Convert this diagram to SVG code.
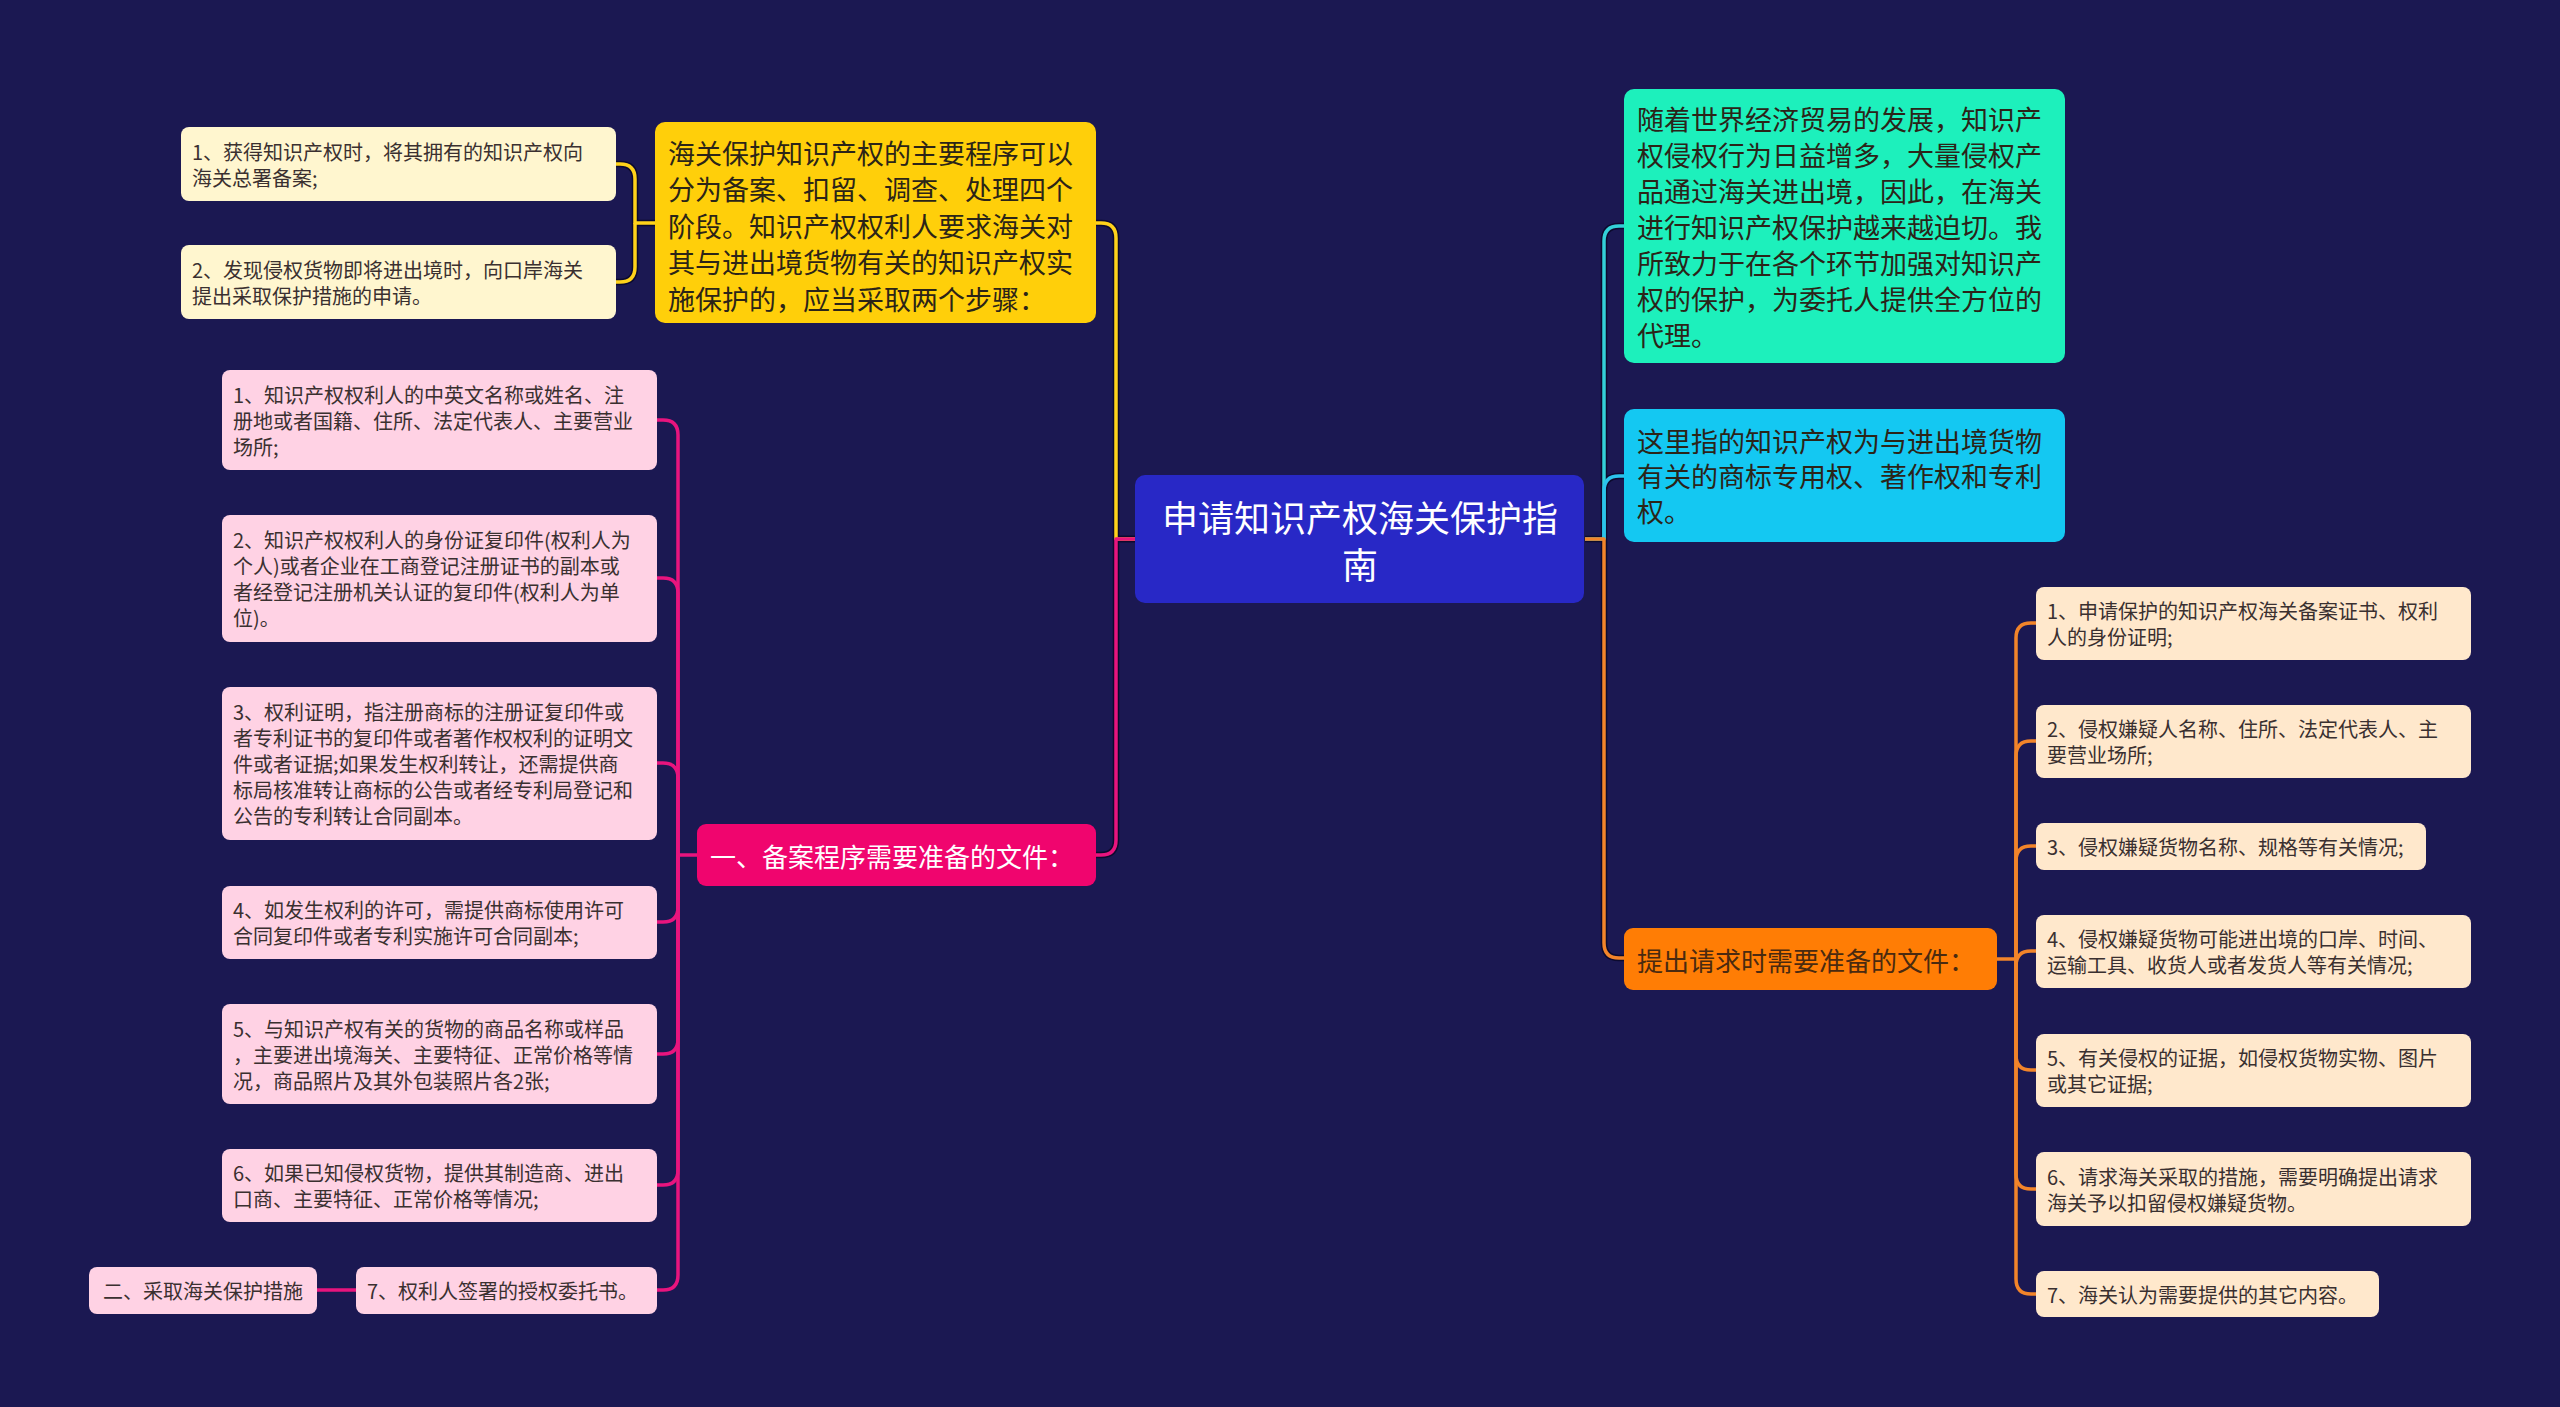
<svg xmlns="http://www.w3.org/2000/svg" width="2560" height="1407" viewBox="0 0 2560 1407">
<style>
text{font-family:"Noto Sans CJK SC","Noto Sans",sans-serif;dominant-baseline:central}
.root text{font-size:36px;fill:#ffffff;text-anchor:middle}
.big text{font-size:27px;fill:#2b2418}
.sec text{font-size:26px}
.leaf text{font-size:20px;fill:#3a3030}
.ln{fill:none;stroke-width:3.5;stroke-linejoin:round}
.sh{fill:none;stroke:#0c0a2e;stroke-width:6.5;stroke-linejoin:round}
.yl{stroke:#ffd21a}.pk{stroke:#e8147e}.tl{stroke:#33d0d8}.cy{stroke:#2bc3ec}.or{stroke:#f2842a}
</style>
<rect width="2560" height="1407" fill="#1b1852"/>
<g id="connectors">
 <g class="shadows">
  <path class="sh" d="M1135,539 H1116 V238 Q1116,223 1101,223 H1096"/>
  <path class="sh" d="M1135,539 H1116 V840 Q1116,855 1101,855 H1096"/>
  <path class="sh" d="M655,223 H635 V179 Q635,164 620,164 H616 M635,223 V267 Q635,282 620,282 H616"/>
  <path class="sh" d="M1585,539 H1604 V241 Q1604,226 1619,226 H1624 M1604,491 Q1604,476 1619,476 H1624 M1604,539 V943 Q1604,958 1619,958 H1624"/>
 </g>
 <path class="ln yl" d="M1135,539 H1116 V238 Q1116,223 1101,223 H1096"/>
 <path class="ln yl" d="M655,223 H635 V179 Q635,164 620,164 H616"/>
 <path class="ln yl" d="M635,223 V267 Q635,282 620,282 H616"/>
 <path class="ln pk" d="M1135,539 H1116 V840 Q1116,855 1101,855 H1096"/>
 <path class="ln pk" d="M697,855 H678 V435 Q678,420 663,420 H657"/>
 <path class="ln pk" d="M678,855 V593 Q678,578 663,578 H657"/>
 <path class="ln pk" d="M678,855 V778 Q678,763 663,763 H657"/>
 <path class="ln pk" d="M678,855 V907 Q678,922 663,922 H657"/>
 <path class="ln pk" d="M678,855 V1039 Q678,1054 663,1054 H657"/>
 <path class="ln pk" d="M678,855 V1170 Q678,1185 663,1185 H657"/>
 <path class="ln pk" d="M678,855 V1275 Q678,1290 663,1290 H657"/>
 <path class="ln pk" d="M356,1290 H317"/>
 <path class="ln tl" d="M1585,539 H1604 V241 Q1604,226 1619,226 H1624"/>
 <path class="ln cy" d="M1604,539 V491 Q1604,476 1619,476 H1624"/>
 <path class="ln or" d="M1585,539 H1604 V943 Q1604,958 1619,958 H1624"/>
 <path class="ln or" d="M1997,959 H2016 V638 Q2016,623 2031,623 H2036"/>
 <path class="ln or" d="M2016,959 V756 Q2016,741 2031,741 H2036"/>
 <path class="ln or" d="M2016,959 V861 Q2016,846 2031,846 H2036"/>
 <path class="ln or" d="M2016,959 V966 Q2016,951 2031,951 H2036"/>
 <path class="ln or" d="M2016,959 V1055 Q2016,1070 2031,1070 H2036"/>
 <path class="ln or" d="M2016,959 V1174 Q2016,1189 2031,1189 H2036"/>
 <path class="ln or" d="M2016,959 V1279 Q2016,1294 2031,1294 H2036"/>
</g>

<g id="root" class="root">
 <rect x="1135" y="475" width="449" height="128" rx="10" fill="#2828c6"/>
 <text x="1360" y="516">申请知识产权海关保护指</text>
 <text x="1360" y="563">南</text>
</g>

<g id="yellow-main" class="big">
 <rect x="655" y="122" width="441" height="201" rx="10" fill="#ffcf0a"/>
 <text x="668" y="152">海关保护知识产权的主要程序可以</text>
 <text x="668" y="188.5">分为备案、扣留、调查、处理四个</text>
 <text x="668" y="225">阶段。知识产权权利人要求海关对</text>
 <text x="668" y="261.5">其与进出境货物有关的知识产权实</text>
 <text x="668" y="298">施保护的，应当采取两个步骤：</text>
</g>
<g id="yellow-c1" class="leaf">
 <rect x="181" y="127" width="435" height="74" rx="8" fill="#fff6cf"/>
 <text x="192" y="151">1、获得知识产权时，将其拥有的知识产权向</text>
 <text x="192" y="177">海关总署备案;</text>
</g>
<g id="yellow-c2" class="leaf">
 <rect x="181" y="245" width="435" height="74" rx="8" fill="#fff6cf"/>
 <text x="192" y="269">2、发现侵权货物即将进出境时，向口岸海关</text>
 <text x="192" y="295">提出采取保护措施的申请。</text>
</g>

<g id="pink-main" class="sec">
 <rect x="697" y="824" width="399" height="62" rx="9" fill="#f0056e"/>
 <text x="710" y="855" fill="#ffffff">一、备案程序需要准备的文件：</text>
</g>
<g id="pink-c1" class="leaf">
 <rect x="222" y="370" width="435" height="100" rx="8" fill="#ffd2e4"/>
 <text x="233" y="394">1、知识产权权利人的中英文名称或姓名、注</text>
 <text x="233" y="420">册地或者国籍、住所、法定代表人、主要营业</text>
 <text x="233" y="446">场所;</text>
</g>
<g id="pink-c2" class="leaf">
 <rect x="222" y="515" width="435" height="127" rx="8" fill="#ffd2e4"/>
 <text x="233" y="539.5">2、知识产权权利人的身份证复印件(权利人为</text>
 <text x="233" y="565.5">个人)或者企业在工商登记注册证书的副本或</text>
 <text x="233" y="591.5">者经登记注册机关认证的复印件(权利人为单</text>
 <text x="233" y="617.5">位)。</text>
</g>
<g id="pink-c3" class="leaf">
 <rect x="222" y="687" width="435" height="153" rx="8" fill="#ffd2e4"/>
 <text x="233" y="711">3、权利证明，指注册商标的注册证复印件或</text>
 <text x="233" y="737">者专利证书的复印件或者著作权权利的证明文</text>
 <text x="233" y="763">件或者证据;如果发生权利转让，还需提供商</text>
 <text x="233" y="789">标局核准转让商标的公告或者经专利局登记和</text>
 <text x="233" y="815">公告的专利转让合同副本。</text>
</g>
<g id="pink-c4" class="leaf">
 <rect x="222" y="886" width="435" height="73" rx="8" fill="#ffd2e4"/>
 <text x="233" y="909.5">4、如发生权利的许可，需提供商标使用许可</text>
 <text x="233" y="935.5">合同复印件或者专利实施许可合同副本;</text>
</g>
<g id="pink-c5" class="leaf">
 <rect x="222" y="1004" width="435" height="100" rx="8" fill="#ffd2e4"/>
 <text x="233" y="1028">5、与知识产权有关的货物的商品名称或样品</text>
 <text x="233" y="1054">，主要进出境海关、主要特征、正常价格等情</text>
 <text x="233" y="1080">况，商品照片及其外包装照片各2张;</text>
</g>
<g id="pink-c6" class="leaf">
 <rect x="222" y="1149" width="435" height="73" rx="8" fill="#ffd2e4"/>
 <text x="233" y="1172.5">6、如果已知侵权货物，提供其制造商、进出</text>
 <text x="233" y="1198.5">口商、主要特征、正常价格等情况;</text>
</g>
<g id="pink-c7" class="leaf">
 <rect x="356" y="1267" width="301" height="47" rx="8" fill="#ffd2e4"/>
 <text x="367" y="1290.5">7、权利人签署的授权委托书。</text>
</g>
<g id="pink-c7-sub" class="leaf">
 <rect x="89" y="1267" width="228" height="47" rx="8" fill="#ffd2e4"/>
 <text x="103" y="1290.5">二、采取海关保护措施</text>
</g>

<g id="teal-main" class="big">
 <rect x="1624" y="89" width="441" height="274" rx="10" fill="#1df0bc"/>
 <text x="1637" y="118">随着世界经济贸易的发展，知识产</text>
 <text x="1637" y="154">权侵权行为日益增多，大量侵权产</text>
 <text x="1637" y="190">品通过海关进出境，因此，在海关</text>
 <text x="1637" y="226">进行知识产权保护越来越迫切。我</text>
 <text x="1637" y="262">所致力于在各个环节加强对知识产</text>
 <text x="1637" y="298">权的保护，为委托人提供全方位的</text>
 <text x="1637" y="334">代理。</text>
</g>
<g id="cyan-main" class="big">
 <rect x="1624" y="409" width="441" height="133" rx="10" fill="#14c8f2"/>
 <text x="1637" y="440.5">这里指的知识产权为与进出境货物</text>
 <text x="1637" y="475.5">有关的商标专用权、著作权和专利</text>
 <text x="1637" y="510.5">权。</text>
</g>

<g id="orange-main" class="sec">
 <rect x="1624" y="928" width="373" height="62" rx="9" fill="#ff7d05"/>
 <text x="1637" y="959" fill="#4a2a10">提出请求时需要准备的文件：</text>
</g>
<g id="orange-c1" class="leaf">
 <rect x="2036" y="587" width="435" height="73" rx="8" fill="#ffe8cc"/>
 <text x="2047" y="610.5">1、申请保护的知识产权海关备案证书、权利</text>
 <text x="2047" y="636.5">人的身份证明;</text>
</g>
<g id="orange-c2" class="leaf">
 <rect x="2036" y="705" width="435" height="73" rx="8" fill="#ffe8cc"/>
 <text x="2047" y="728.5">2、侵权嫌疑人名称、住所、法定代表人、主</text>
 <text x="2047" y="754.5">要营业场所;</text>
</g>
<g id="orange-c3" class="leaf">
 <rect x="2036" y="823" width="390" height="47" rx="8" fill="#ffe8cc"/>
 <text x="2047" y="846.5">3、侵权嫌疑货物名称、规格等有关情况;</text>
</g>
<g id="orange-c4" class="leaf">
 <rect x="2036" y="915" width="435" height="73" rx="8" fill="#ffe8cc"/>
 <text x="2047" y="938.5">4、侵权嫌疑货物可能进出境的口岸、时间、</text>
 <text x="2047" y="964.5">运输工具、收货人或者发货人等有关情况;</text>
</g>
<g id="orange-c5" class="leaf">
 <rect x="2036" y="1034" width="435" height="73" rx="8" fill="#ffe8cc"/>
 <text x="2047" y="1057.5">5、有关侵权的证据，如侵权货物实物、图片</text>
 <text x="2047" y="1083.5">或其它证据;</text>
</g>
<g id="orange-c6" class="leaf">
 <rect x="2036" y="1152" width="435" height="74" rx="8" fill="#ffe8cc"/>
 <text x="2047" y="1176">6、请求海关采取的措施，需要明确提出请求</text>
 <text x="2047" y="1202">海关予以扣留侵权嫌疑货物。</text>
</g>
<g id="orange-c7" class="leaf">
 <rect x="2036" y="1271" width="343" height="46" rx="8" fill="#ffe8cc"/>
 <text x="2047" y="1294">7、海关认为需要提供的其它内容。</text>
</g>
</svg>
